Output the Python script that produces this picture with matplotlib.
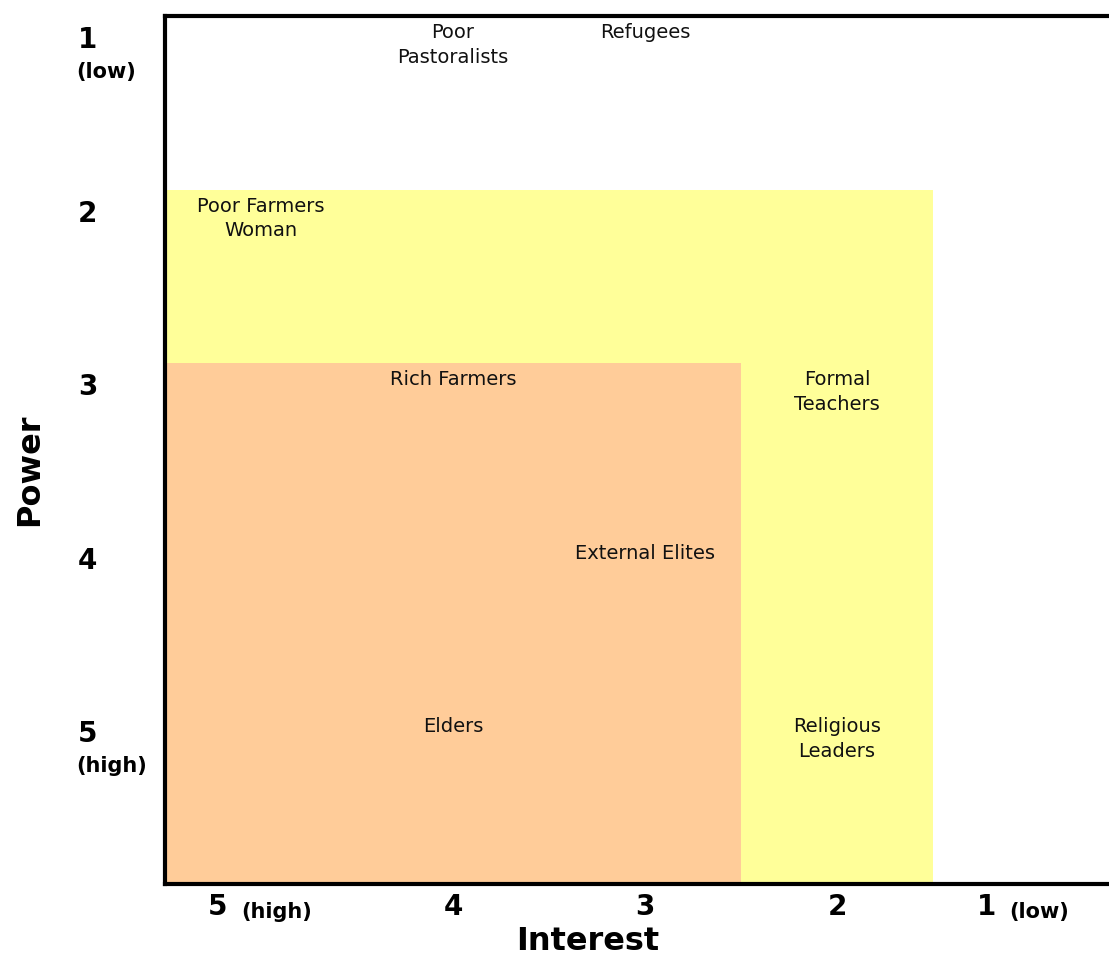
import matplotlib
matplotlib.use("Agg")
import matplotlib.pyplot as plt
from matplotlib.colors import ListedColormap
import numpy as np

# interest runs high -> low from left to right, power low -> high top to bottom
interest_levels = [5, 4, 3, 2, 1]
interest_notes = ["(high)", "", "", "", "(low)"]
power_levels = [1, 2, 3, 4, 5]
power_notes = ["(low)", "", "", "", "(high)"]

# zone per cell: 0 = none, 1 = keep informed (yellow), 2 = manage closely (orange)
zones = [
    [0, 0, 0, 0, 0],
    [1, 1, 1, 1, 0],
    [2, 2, 2, 1, 0],
    [2, 2, 2, 1, 0],
    [2, 2, 2, 1, 0],
]

stakeholders = ["Poor\nPastoralists", "Refugees", "Poor Farmers\nWoman", "Rich Farmers",
                "Formal\nTeachers", "External Elites", "Elders", "Religious\nLeaders"]
stake_interest = [4, 3, 5, 4, 2, 3, 4, 2]
stake_power = [1, 1, 2, 3, 3, 4, 5, 5]

zone_colors = ["#FFFFFF", "#FFFF99", "#FFCC99"]

W, H = 1109, 957
fig = plt.figure(figsize=(W / 100, H / 100), dpi=100)
ax = fig.add_axes([165 / W, 73 / H, 960 / W, 868 / H])

ax.pcolormesh(np.arange(6), np.arange(6), np.array(zones),
              cmap=ListedColormap(zone_colors), vmin=-0.5, vmax=2.5)
ax.set_xlim(0, 5)
ax.set_ylim(5, 0)

for side in ["left", "top", "bottom"]:
    ax.spines[side].set_linewidth(3)
    ax.spines[side].set_color("black")
ax.spines["right"].set_visible(False)
ax.set_xticks([])
ax.set_yticks([])

# stakeholder labels, centred in their cell near the top
for name, it, pw in zip(stakeholders, stake_interest, stake_power):
    col = interest_levels.index(it)
    ax.text(col + 0.5, pw - 1 + 0.04, name, ha="center", va="top",
            fontsize=14, color="#111111", linespacing=1.38)

# x tick labels (number + note)
for i, (lvl, note) in enumerate(zip(interest_levels, interest_notes)):
    if note:
        ax.annotate(str(lvl), xy=(i + 0.5, 5), xytext=(-43, -23),
                    textcoords="offset pixels", ha="center", va="center",
                    fontsize=20, fontweight="bold", annotation_clip=False)
        ax.annotate(note, xy=(i + 0.5, 5), xytext=(-20, -28),
                    textcoords="offset pixels", ha="left", va="center",
                    fontsize=15, fontweight="bold", annotation_clip=False)
    else:
        ax.annotate(str(lvl), xy=(i + 0.5, 5), xytext=(0, -23),
                    textcoords="offset pixels", ha="center", va="center",
                    fontsize=20, fontweight="bold", annotation_clip=False)

# y tick labels
for j, (lvl, note) in enumerate(zip(power_levels, power_notes)):
    ax.annotate(str(lvl), xy=(0, j), xytext=(-87, -24),
                textcoords="offset pixels", ha="left", va="center",
                fontsize=20, fontweight="bold", annotation_clip=False)
    if note:
        ax.annotate(note, xy=(0, j), xytext=(-89, -56),
                    textcoords="offset pixels", ha="left", va="center",
                    fontsize=15, fontweight="bold", annotation_clip=False)

fig.text(588 / W, 1 - 941 / H, "Interest", ha="center", va="center",
         fontsize=23, fontweight="bold")
fig.text(30 / W, 1 - 470 / H, "Power", ha="center", va="center",
         fontsize=23, fontweight="bold", rotation=90)

fig.savefig("out.png", dpi=100)
